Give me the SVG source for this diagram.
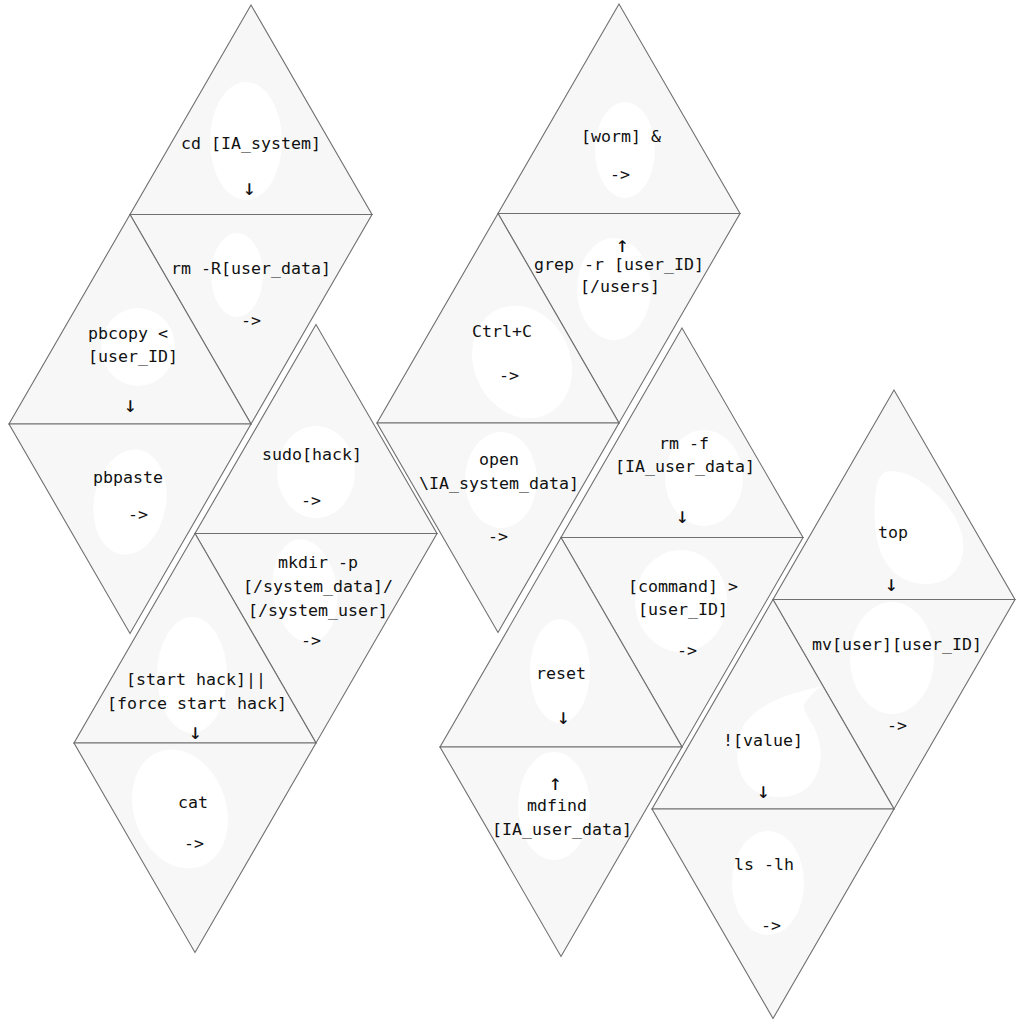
<svg xmlns="http://www.w3.org/2000/svg" width="1024" height="1024" viewBox="0 0 1024 1024">
<style>
.tri{fill:#f7f7f7;stroke:#707070;stroke-width:1.1}
.blob{fill:#ffffff}
text{font-family:"DejaVu Sans Mono","Liberation Mono",monospace;font-size:16.6px;fill:#111;text-anchor:middle}
text.arr{font-size:22px}
</style>
<rect width="1024" height="1024" fill="#ffffff"/>
<!-- Cluster A -->
<g id="n-cd">
<polygon class="tri" points="251,5 130,214.5 372,214.5"/>
<ellipse class="blob" cx="246" cy="141" rx="36" ry="59"/>
<text x="251" y="149">cd [IA_system]</text>
<text class="arr" x="249" y="195">↓</text>
</g>
<g id="n-rmR">
<polygon class="tri" points="130,214.5 372,214.5 251,424"/>
<ellipse class="blob" cx="237" cy="275" rx="26" ry="42"/>
<text x="251" y="274">rm -R[user_data]</text>
<text x="251" y="326">-&gt;</text>
</g>
<g id="n-pbcopy">
<polygon class="tri" points="130,214.5 9,424 251,424"/>
<ellipse class="blob" cx="138" cy="347" rx="37" ry="39"/>
<text x="128" y="339">pbcopy &lt;</text>
<text x="133" y="362">[user_ID]</text>
<text class="arr" x="130" y="412">↓</text>
</g>
<g id="n-pbpaste">
<polygon class="tri" points="9,424 251,424 130,633.5"/>
<ellipse class="blob" cx="130" cy="502" rx="36" ry="53" transform="rotate(10 130 502)"/>
<text x="128" y="483">pbpaste</text>
<text x="138" y="520">-&gt;</text>
</g>
<!-- Cluster B -->
<g id="n-sudo">
<polygon class="tri" points="316,324.5 195,533.5 437,533.5"/>
<ellipse class="blob" cx="316" cy="472" rx="39" ry="46"/>
<text x="312" y="460">sudo[hack]</text>
<text x="311" y="506">-&gt;</text>
</g>
<g id="n-mkdir">
<polygon class="tri" points="195,533.5 437,533.5 316,743"/>
<ellipse class="blob" cx="305" cy="591" rx="32" ry="52" transform="rotate(-8 305 591)"/>
<text x="318" y="568">mkdir -p</text>
<text x="318" y="592">[/system_data]/</text>
<text x="318" y="616">[/system_user]</text>
<text x="311" y="646">-&gt;</text>
</g>
<g id="n-start">
<polygon class="tri" points="195,533.5 74,743 316,743"/>
<ellipse class="blob" cx="192" cy="675" rx="35" ry="58"/>
<text x="196" y="685">[start hack]||</text>
<text x="197" y="709">[force start hack]</text>
<text class="arr" x="195" y="739">↓</text>
</g>
<g id="n-cat">
<polygon class="tri" points="74,743 316,743 195,952.5"/>
<ellipse class="blob" cx="180" cy="809" rx="46" ry="61" transform="rotate(-20 180 809)"/>
<text x="193" y="808">cat</text>
<text x="194" y="849">-&gt;</text>
</g>
<!-- Cluster C -->
<g id="n-worm">
<polygon class="tri" points="619,4 498,213.5 740,213.5"/>
<ellipse class="blob" cx="625" cy="150" rx="30" ry="48"/>
<text x="621" y="142">[worm] &amp;</text>
<text x="620" y="180">-&gt;</text>
</g>
<g id="n-grep">
<polygon class="tri" points="498,213.5 740,213.5 619,423"/>
<ellipse class="blob" cx="614" cy="289" rx="37" ry="51"/>
<text class="arr" x="622" y="252">↑</text>
<text x="619" y="270">grep -r [user_ID]</text>
<text x="620" y="292">[/users]</text>
</g>
<g id="n-ctrlc">
<polygon class="tri" points="498,213.5 377,423 619,423"/>
<ellipse class="blob" cx="522" cy="362" rx="48" ry="58" transform="rotate(-25 522 362)"/>
<text x="502" y="337">Ctrl+C</text>
<text x="509" y="381">-&gt;</text>
</g>
<g id="n-open">
<polygon class="tri" points="377,423 619,423 498,632.5"/>
<ellipse class="blob" cx="501" cy="480" rx="36" ry="48"/>
<text x="499" y="465">open</text>
<text x="499" y="489">\IA_system_data]</text>
<text x="498" y="542">-&gt;</text>
</g>
<!-- Cluster D -->
<g id="n-rmf">
<polygon class="tri" points="682,328 561,537.5 803,537.5"/>
<ellipse class="blob" cx="704" cy="478" rx="39" ry="48"/>
<text x="684" y="449">rm -f</text>
<text x="685" y="472">[IA_user_data]</text>
<text class="arr" x="682" y="523">↓</text>
</g>
<g id="n-command">
<polygon class="tri" points="561,537.5 803,537.5 682,747"/>
<ellipse class="blob" cx="681" cy="601" rx="46" ry="51"/>
<text x="683" y="592">[command] &gt;</text>
<text x="683" y="615">[user_ID]</text>
<text x="687" y="656">-&gt;</text>
</g>
<g id="n-reset">
<polygon class="tri" points="561,537.5 440,747 682,747"/>
<ellipse class="blob" cx="560" cy="671" rx="30" ry="52"/>
<text x="561" y="679">reset</text>
<text class="arr" x="563" y="724">↓</text>
</g>
<g id="n-mdfind">
<polygon class="tri" points="440,747 682,747 561,956.5"/>
<ellipse class="blob" cx="554" cy="806" rx="36" ry="54"/>
<text class="arr" x="555" y="790">↑</text>
<text x="557" y="811">mdfind</text>
<text x="562" y="835">[IA_user_data]</text>
</g>
<!-- Cluster E -->
<g id="n-top">
<polygon class="tri" points="894,390 773,599.5 1015,599.5"/>
<path class="blob" d="M885,472 C905,466 942,490 958,523 C972,553 958,585 925,584 C892,583 876,556 875,522 C874,497 875,478 885,472 Z"/>
<text x="893" y="538">top</text>
<text class="arr" x="891" y="591">↓</text>
</g>
<g id="n-mv">
<polygon class="tri" points="773,599.5 1015,599.5 894,809"/>
<ellipse class="blob" cx="892" cy="658" rx="42" ry="56"/>
<text x="897" y="650">mv[user][user_ID]</text>
<text x="897" y="731">-&gt;</text>
</g>
<g id="n-value">
<polygon class="tri" points="773,599.5 652,809 894,809"/>
<path class="blob" d="M822,686 C795,692 740,705 737,745 C735,780 752,798 782,797 C812,796 824,770 820,745 C817,725 800,712 805,703 C809,697 816,690 822,686 Z"/>
<text x="763" y="746">![value]</text>
<text class="arr" x="763" y="798">↓</text>
</g>
<g id="n-ls">
<polygon class="tri" points="652,809 894,809 773,1018.5"/>
<ellipse class="blob" cx="768" cy="883" rx="36" ry="52"/>
<text x="764" y="870">ls -lh</text>
<text x="771" y="931">-&gt;</text>
</g>
</svg>
